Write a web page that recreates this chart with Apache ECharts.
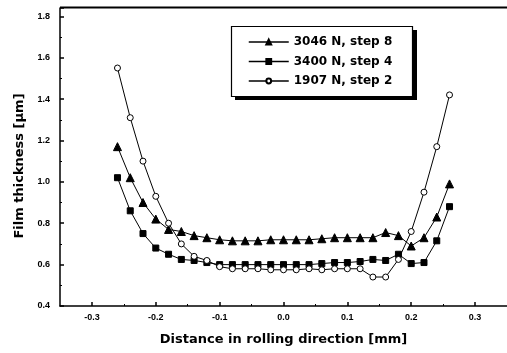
<!DOCTYPE html>
<html>
<head>
<meta charset="utf-8">
<script src="https://cdn.jsdelivr.net/npm/echarts@6/dist/echarts.min.js"></script>
<style>
  html, body { margin: 0; padding: 0; background: #fff; }
  #chart { width: 507px; height: 353px; }
</style>
</head>
<body>
<div id="chart"></div>
<script>
// Position along the rolling direction [mm]
const distance = [-0.26, -0.24, -0.22, -0.20, -0.18, -0.16, -0.14, -0.12, -0.10, -0.08, -0.06, -0.04, -0.02,
  0.00, 0.02, 0.04, 0.06, 0.08, 0.10, 0.12, 0.14, 0.16, 0.18, 0.20, 0.22, 0.24, 0.26];

// Film thickness [µm] for each load / step
const load3046 = [1.17, 1.02, 0.90, 0.82, 0.77, 0.76, 0.74, 0.73, 0.72, 0.715, 0.715, 0.715, 0.72,
  0.72, 0.72, 0.72, 0.725, 0.73, 0.73, 0.73, 0.73, 0.755, 0.74, 0.69, 0.73, 0.83, 0.99];
const load3400 = [1.02, 0.86, 0.75, 0.68, 0.65, 0.625, 0.62, 0.61, 0.60, 0.60, 0.60, 0.60, 0.60,
  0.60, 0.60, 0.60, 0.605, 0.61, 0.61, 0.615, 0.625, 0.62, 0.65, 0.605, 0.61, 0.715, 0.88];
const load1907 = [1.55, 1.31, 1.10, 0.93, 0.80, 0.70, 0.64, 0.62, 0.59, 0.58, 0.58, 0.58, 0.575,
  0.575, 0.575, 0.58, 0.575, 0.58, 0.58, 0.58, 0.54, 0.54, 0.625, 0.76, 0.95, 1.17, 1.42];

const seriesNames = ['3046 N, step 8', '3400 N, step 4', '1907 N, step 2'];

// Labelled x ticks and the small ticks between them
const xMajorTicks = [-0.3, -0.2, -0.1, 0.0, 0.1, 0.2, 0.3];
const xMinorTicks = [-0.25, -0.15, -0.05, 0.05, 0.15, 0.25];

const FONT = 'DejaVu Sans, Verdana, sans-serif';
const TICK_FONT = 'Liberation Sans, Arial, sans-serif';

function pairs(ys) {
  return distance.map((x, i) => [x, ys[i]]);
}

function lineSeries(name, ys, symbol, size, fill) {
  return {
    name: name,
    type: 'line',
    xAxisIndex: 0,
    data: pairs(ys),
    symbol: symbol,
    symbolSize: size,
    showSymbol: true,
    lineStyle: { color: '#000', width: 1 },
    itemStyle: { color: fill, borderColor: '#000', borderWidth: 1 },
    emphasis: { disabled: true },
    animation: false
  };
}

const chart = echarts.init(document.getElementById('chart'), null, { renderer: 'canvas' });

const xRange = { min: -0.35, max: 0.35 };

chart.setOption({
  backgroundColor: '#fff',
  animation: false,
  grid: {
    left: 60, top: 8, right: -5, bottom: 47,
    show: false
  },
  legend: {
    orient: 'vertical',
    left: 231, top: 26,
    padding: [10, 19, 9, 17],
    itemWidth: 40, itemHeight: 6, itemGap: 7.5,
    lineStyle: { width: 1.5 },
    textStyle: { fontFamily: FONT, fontWeight: 'bold', fontSize: 12, color: '#000' },
    data: seriesNames,
    z: 10
  },
  xAxis: [
    {
      type: 'value',
      min: xRange.min, max: xRange.max,
      name: 'Distance in rolling direction [mm]',
      nameLocation: 'middle', nameGap: 27,
      nameTextStyle: { fontFamily: FONT, fontWeight: 'bold', fontSize: 13, color: '#000' },
      axisLine: { onZero: false, lineStyle: { color: '#000', width: 1.5 } },
      axisTick: { inside: true, length: 4, customValues: xMajorTicks, lineStyle: { color: '#000', width: 1.5 } },
      splitLine: { show: false },
      axisLabel: {
        margin: 7, fontFamily: TICK_FONT, fontWeight: 'bold', fontSize: 9, color: '#000',
        customValues: xMajorTicks,
        formatter: v => v.toFixed(1)
      }
    },
    {
      type: 'value',
      position: 'bottom',
      min: xRange.min, max: xRange.max,
      axisLine: { show: false, onZero: false },
      axisTick: { show: true, inside: true, length: 2, customValues: xMinorTicks, lineStyle: { color: '#000', width: 1 } },
      axisLabel: { show: false },
      splitLine: { show: false }
    }
  ],
  yAxis: {
    type: 'value',
    min: 0.4, max: 1.84, interval: 0.2,
    name: 'Film thickness [μm]',
    nameLocation: 'middle', nameGap: 32, nameRotate: 90,
    nameTextStyle: { fontFamily: FONT, fontWeight: 'bold', fontSize: 13, color: '#000', padding: [0, 18, 0, 0] },
    axisLine: { show: true, onZero: false, lineStyle: { color: '#000', width: 1.5 } },
    axisTick: { show: true, inside: true, length: 4, lineStyle: { color: '#000', width: 1.5 } },
    minorTick: { show: true, splitNumber: 2, length: 2, lineStyle: { color: '#000' } },
    splitLine: { show: false },
    axisLabel: {
      margin: 10, fontFamily: TICK_FONT, fontWeight: 'bold', fontSize: 9, color: '#000',
      showMaxLabel: false,
      formatter: v => v.toFixed(1)
    }
  },
  graphic: [
    // top frame line
    {
      type: 'line', z: 1,
      shape: { x1: 60, y1: 7.5, x2: 507, y2: 7.5 },
      style: { stroke: '#000', lineWidth: 2 },
      silent: true
    },
    // legend frame with its solid drop shadow
    {
      type: 'rect', z: 1,
      shape: { x: 235, y: 30, width: 182, height: 70 },
      style: { fill: '#000' },
      silent: true
    },
    {
      type: 'rect', z: 2,
      shape: { x: 231.5, y: 26.5, width: 181, height: 70 },
      style: { fill: '#fff', stroke: '#000', lineWidth: 1.2 },
      silent: true
    }
  ],
  series: [
    lineSeries(seriesNames[0], load3046, 'triangle', 8, '#000'),
    lineSeries(seriesNames[1], load3400, 'rect', 6, '#000'),
    lineSeries(seriesNames[2], load1907, 'circle', 6, '#fff')
  ]
});
</script>
</body>
</html>
